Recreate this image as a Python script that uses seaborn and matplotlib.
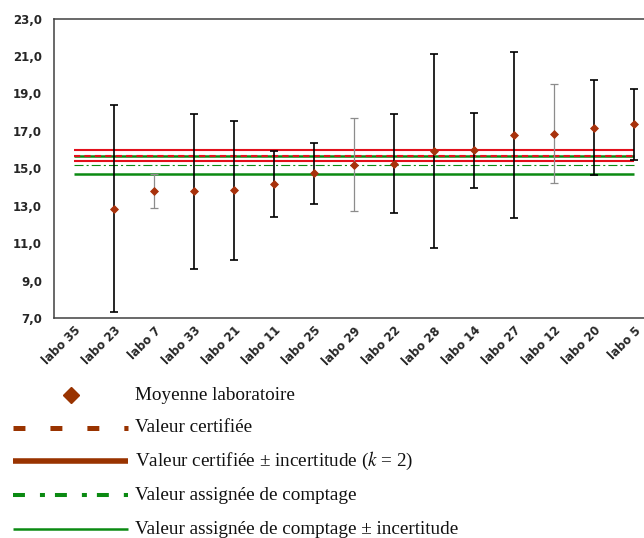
import numpy as np
import pandas as pd
import matplotlib
matplotlib.use("Agg")
import matplotlib.pyplot as plt
from matplotlib.lines import Line2D
import seaborn as sns

# ---- data -------------------------------------------------------------
labs = ["labo 35", "labo 23", "labo 7", "labo 33", "labo 21", "labo 11",
        "labo 25", "labo 29", "labo 22", "labo 28", "labo 14", "labo 27",
        "labo 12", "labo 20", "labo 5"]
means = [np.nan, 12.84, 13.80, 13.77, 13.82, 14.17, 14.72, 15.19, 15.25,
         15.93, 15.97, 16.78, 16.85, 17.17, 17.34]
uncert = [np.nan, 5.52, 0.90, 4.14, 3.71, 1.77, 1.65, 2.50, 2.65,
          5.17, 2.00, 4.43, 2.66, 2.53, 1.90]
grey_labs = ["labo 7", "labo 29", "labo 12"]

certified = 15.68
certified_u = 0.30
assigned = 15.17
assigned_u = 0.50

y_ticks = [7.0, 9.0, 11.0, 13.0, 15.0, 17.0, 19.0, 21.0, 23.0]

legend_labels = [
    "Moyenne laboratoire",
    "Valeur certifiée",
    r"Valeur certifiée ± incertitude ($k$ = 2)",
    "Valeur assignée de comptage",
    "Valeur assignée de comptage ± incertitude",
]

# ---- style ------------------------------------------------------------
sns.set_style("white")
plt.rcParams["font.family"] = ["DejaVu Sans"]
plt.rcParams["mathtext.fontset"] = "stix"
plt.rcParams["lines.scale_dashes"] = False

RED = "#E3101C"
GREEN = "#0B8A12"
BROWN = "#993300"
MARK = "#A8320C"
SPINE = "#404040"

W, H = 644, 538
fig = plt.figure(figsize=(W / 100, H / 100), dpi=100)
ax = fig.add_axes([54 / W, (H - 318) / H, 600 / W, 299.5 / H])

df = pd.DataFrame({"pos": np.arange(len(labs)), "lab": labs,
                   "mean": means, "u": uncert})
pts = df.dropna()

# reference lines spanning the first to the last laboratory
x0, x1 = 0, len(labs) - 1
ax.hlines([certified + certified_u, certified - certified_u], x0, x1,
          colors=RED, lw=1.5, zorder=1)
ax.hlines([assigned + assigned_u, assigned - assigned_u], x0, x1,
          colors=GREEN, lw=1.8, zorder=1)
ax.hlines(certified, x0, x1, colors=RED, lw=1.5, linestyles=(0, (4.5, 3.0)),
          zorder=1.2)
ax.hlines(assigned, x0, x1, colors=GREEN, lw=0.8,
          linestyles=(0, (6.5, 2.2, 1.5, 2.2)), zorder=1.2)

# laboratory uncertainty bars
for _, r in pts.iterrows():
    grey = r["lab"] in grey_labs
    ax.errorbar(r["pos"], r["mean"], yerr=r["u"], fmt="none",
                ecolor="#8C8C8C" if grey else "#000000",
                elinewidth=0.9 if grey else 1.2, capsize=2.6,
                capthick=0.9 if grey else 1.2, zorder=2)

# laboratory means
sns.scatterplot(data=pts, x="pos", y="mean", marker="D", s=16,
                color=MARK, edgecolor=MARK, linewidth=0.6, ax=ax,
                zorder=3, legend=False)

# ---- axes -------------------------------------------------------------
ax.set_xlim(-0.5, len(labs) - 0.5)
ax.set_ylim(7, 23)
ax.set_xlabel("")
ax.set_ylabel("")
ax.set_yticks(y_ticks)
ax.set_yticklabels([f"{v:.1f}".replace(".", ",") for v in y_ticks],
                   fontsize=8.5, fontweight="bold")
ax.tick_params(axis="y", length=0, pad=8.6)

ax.set_xticks(np.arange(len(labs)))
ax.set_xticklabels(labs, rotation=45, ha="right", rotation_mode="anchor",
                   fontsize=8.4, fontweight="bold")
ax.set_xticks(np.arange(len(labs) + 1) - 0.5, minor=True)
ax.tick_params(axis="x", which="major", length=0, pad=4.5)
ax.tick_params(axis="x", which="minor", length=3, width=0.9, color=SPINE,
               direction="out")

for side in ["left", "bottom", "top"]:
    ax.spines[side].set_color(SPINE)
    ax.spines[side].set_linewidth(1.1)
ax.spines["right"].set_visible(False)

# ---- legend block below the chart -------------------------------------
def fx(px):
    return px / W


def fy(py):
    return 1 - py / H


rows = [395, 428, 461, 495, 529]
hx0, hx1, tx = 13, 128, 135
handles = [
    dict(marker="D", ms=8.0, color=BROWN, lw=0, only_marker=True),
    dict(color=BROWN, lw=3.6, ls=(0, (8.6, 18.0))),
    dict(color=BROWN, lw=4.0, ls="-"),
    dict(color=GREEN, lw=2.9, ls=(0, (8.6, 10.8, 3.6, 7.2))),
    dict(color=GREEN, lw=1.8, ls="-"),
]
for y, h, text in zip(rows, handles, legend_labels):
    if h.get("only_marker"):
        fig.add_artist(Line2D([fx((hx0 + hx1) / 2)], [fy(y)], marker="D",
                              ms=h["ms"], color=h["color"], lw=0,
                              transform=fig.transFigure))
    else:
        fig.add_artist(Line2D([fx(hx0), fx(hx1)], [fy(y), fy(y)],
                              color=h["color"], lw=h["lw"], ls=h["ls"],
                              solid_capstyle="butt", dash_capstyle="butt",
                              transform=fig.transFigure))
    fig.text(fx(tx), fy(y), text, ha="left", va="center", fontsize=13.8,
             family=["Liberation Serif", "DejaVu Serif"], color="#111111")

fig.savefig("out.png", dpi=100, facecolor="white")
